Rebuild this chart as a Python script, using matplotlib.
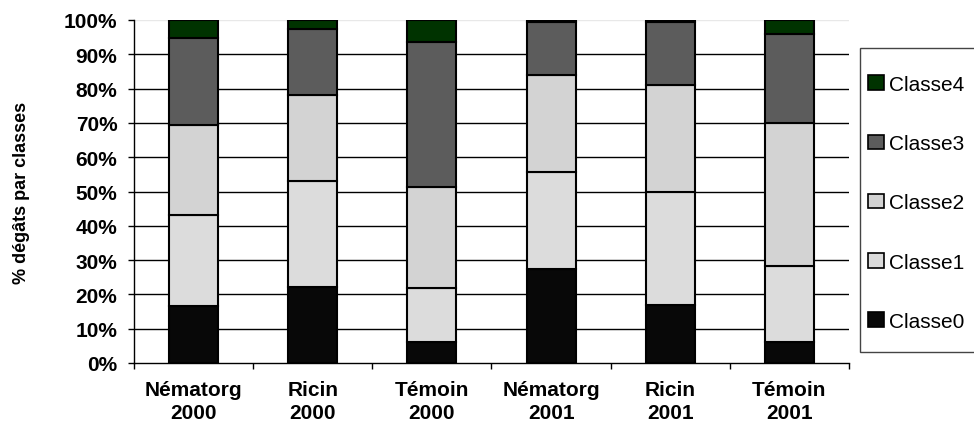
import numpy as np
import matplotlib
matplotlib.use("Agg")
from matplotlib import pyplot as plt
from matplotlib.patches import Rectangle, Patch

plt.rcParams['font.family'] = ['Liberation Sans', 'DejaVu Sans']

# Data (% per damage class)
groups = ["Nématorg\n2000", "Ricin\n2000", "Témoin\n2000",
          "Nématorg\n2001", "Ricin\n2001", "Témoin\n2001"]
classe0 = [16.5, 22.1, 6.2, 27.3, 17.0, 6.1]
classe1 = [26.7, 30.9, 15.8, 28.3, 32.9, 22.1]
classe2 = [26.1, 25.2, 29.4, 28.3, 31.2, 41.8]
classe3 = [25.5, 19.1, 42.2, 15.6, 18.2, 25.9]
classe4 = [5.2, 2.7, 6.4, 0.5, 0.7, 4.1]
series_names = ["Classe0", "Classe1", "Classe2", "Classe3", "Classe4"]
series_colors = ["#080808", "#dcdcdc", "#d3d3d3", "#5c5c5c", "#003300"]
y_ticks = [0, 10, 20, 30, 40, 50, 60, 70, 80, 90, 100]

fig = plt.figure(figsize=(9.74, 4.27), dpi=100)
ax = fig.add_axes([134 / 974, 1 - 364 / 427, 715 / 974, 343 / 427])

x = np.arange(len(groups))
series = [classe0, classe1, classe2, classe3, classe4]
bottom = np.zeros(len(groups))
handles = []
for name, vals, col in zip(series_names, series, series_colors):
    vals = np.array(vals)
    ax.bar(x, vals, width=0.41, bottom=bottom, color=col,
           edgecolor='black', linewidth=1.5, zorder=3)
    bottom += vals
    handles.append(Patch(facecolor=col, edgecolor='black', linewidth=1.2, label=name))

# Grid lines (black), top one faint
for t in y_ticks[1:-1]:
    ax.axhline(t, color='black', linewidth=1.0, zorder=1)
ax.axhline(100, color='#e8e8e8', linewidth=1.0, zorder=1)

ax.set_xlim(-0.5, len(groups) - 0.5)
ax.set_ylim(0, 100)
ax.set_yticks(y_ticks)
ax.set_yticklabels([f"{t}%" for t in y_ticks], fontsize=15, fontweight='bold')
ax.set_xticks(x)
ax.set_xticklabels(groups, fontsize=15, fontweight='bold', linespacing=1.3)
ax.set_xticks(np.arange(-0.5, len(groups)), minor=True)
ax.tick_params(axis='x', which='major', length=0, pad=12)
ax.tick_params(axis='x', which='minor', length=4.5, width=1, direction='out')
ax.tick_params(axis='y', length=4, width=1, pad=8, direction='out')

for s in ['top', 'right']:
    ax.spines[s].set_visible(False)
ax.spines['left'].set_linewidth(1.0)
ax.spines['bottom'].set_linewidth(1.0)
ax.spines['left'].set_zorder(4)
ax.spines['bottom'].set_zorder(4)

ax.set_ylabel("% dégâts par classes", fontsize=13, fontweight='bold')
ax.yaxis.set_label_coords(-0.145, 0.5)

# Legend with hand-placed frame
fig.patches.append(Rectangle((860 / 974, 1 - 353 / 427), 0.2, 304 / 427,
                             transform=fig.transFigure, facecolor='white',
                             edgecolor='#444444', linewidth=1.0, zorder=0))
leg = fig.legend(handles=handles[::-1], loc='upper left',
                 bbox_to_anchor=(868 / 974, 1 - 76 / 427), frameon=False,
                 fontsize=15, handlelength=0.75, handleheight=0.7,
                 handletextpad=0.25, labelspacing=1.93, borderpad=0,
                 borderaxespad=0)

fig.savefig("out.png", dpi=100)
